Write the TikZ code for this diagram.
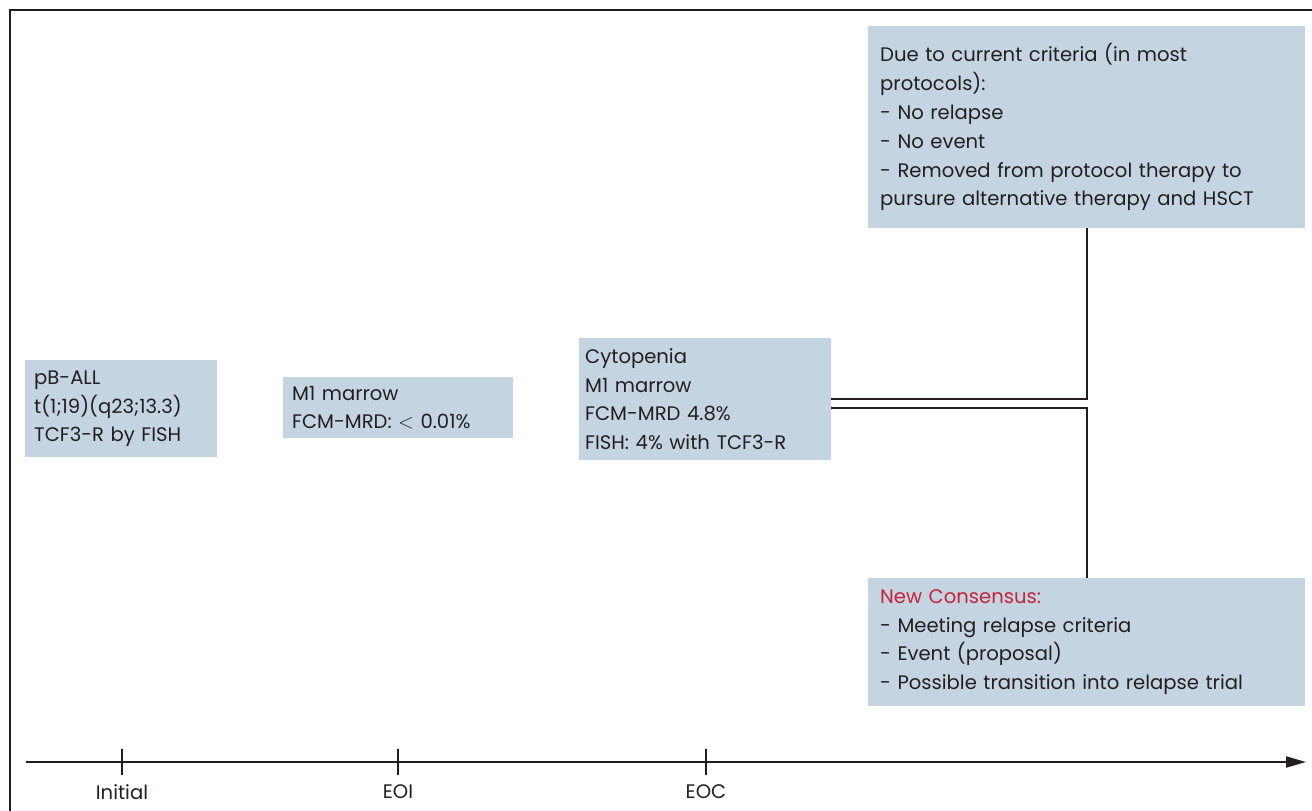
\documentclass[tikz,border=0pt]{standalone}
\usepackage{fontspec}
\setmainfont{Poppins}
\usetikzlibrary{arrows.meta,positioning}
\definecolor{boxblue}{HTML}{C4D4E1}
\definecolor{consred}{HTML}{C8233A}
\definecolor{ink}{HTML}{231F20}

\begin{document}
\begin{tikzpicture}[x=1pt, y=-1pt, font=\fontsize{19.6}{28.8}\selectfont, text=ink,
  box/.style={fill=boxblue, anchor=north west, align=left, inner xsep=10pt, inner ysep=0pt},
  link/.style={draw=ink, line width=2pt}]
\useasboundingbox (0,0) rectangle (1312,811);
\draw[ink, line width=2.5pt] (1312,10) -- (10,10) -- (10,811);

\node[box, text width=174pt, inner xsep=9pt, minimum height=97pt] (diag) at (25,360)
  {pB-ALL\\ t(1;19)(q23;13.3)\\ TCF3-R by FISH};
\node[box, text width=212pt, inner xsep=9pt, minimum height=61pt] (eoi) at (283,377)
  {M1 marrow\\ FCM-MRD: $<$ 0.01\%};
\node[box, text width=240pt, inner xsep=6pt, minimum height=122pt] (cyto) at (579,338)
  {Cytopenia\\ M1 marrow\\ FCM-MRD 4.8\%\\ FISH: 4\% with TCF3-R};
\node[box, text width=413pt, inner xsep=12pt, minimum height=202pt] (crit) at (868,26)
  {Due to current criteria (in most\\ protocols):\\ - No relapse\\ - No event\\
   - Removed from protocol therapy to\\ pursure alternative therapy and HSCT};
\node[box, text width=413pt, inner xsep=12pt, minimum height=128pt] (cons) at (868,578)
  {\textcolor{consred}{New Consensus:}\\ - Meeting relapse criteria\\ - Event (proposal)\\
   - Possible transition into relapse trial};

\draw[link] (cyto.east) -| (crit.south);
\draw[link] ([yshift=-9pt]cyto.east) -| (cons.north);

% time axis
\coordinate (tstart) at (26,762);
\coordinate (tend) at (1306,762);
\draw[link, -{Triangle[length=20pt, width=11pt]}] (tstart) -- (tend);
\foreach \x/\lab/\nm in {122/Initial/init, 398/EOI/eoi, 706/EOC/eoc}
  \draw[link] (\x,749) -- (\x,775) node[below=5pt] (\nm tick) {\lab};
\end{tikzpicture}
\end{document}
